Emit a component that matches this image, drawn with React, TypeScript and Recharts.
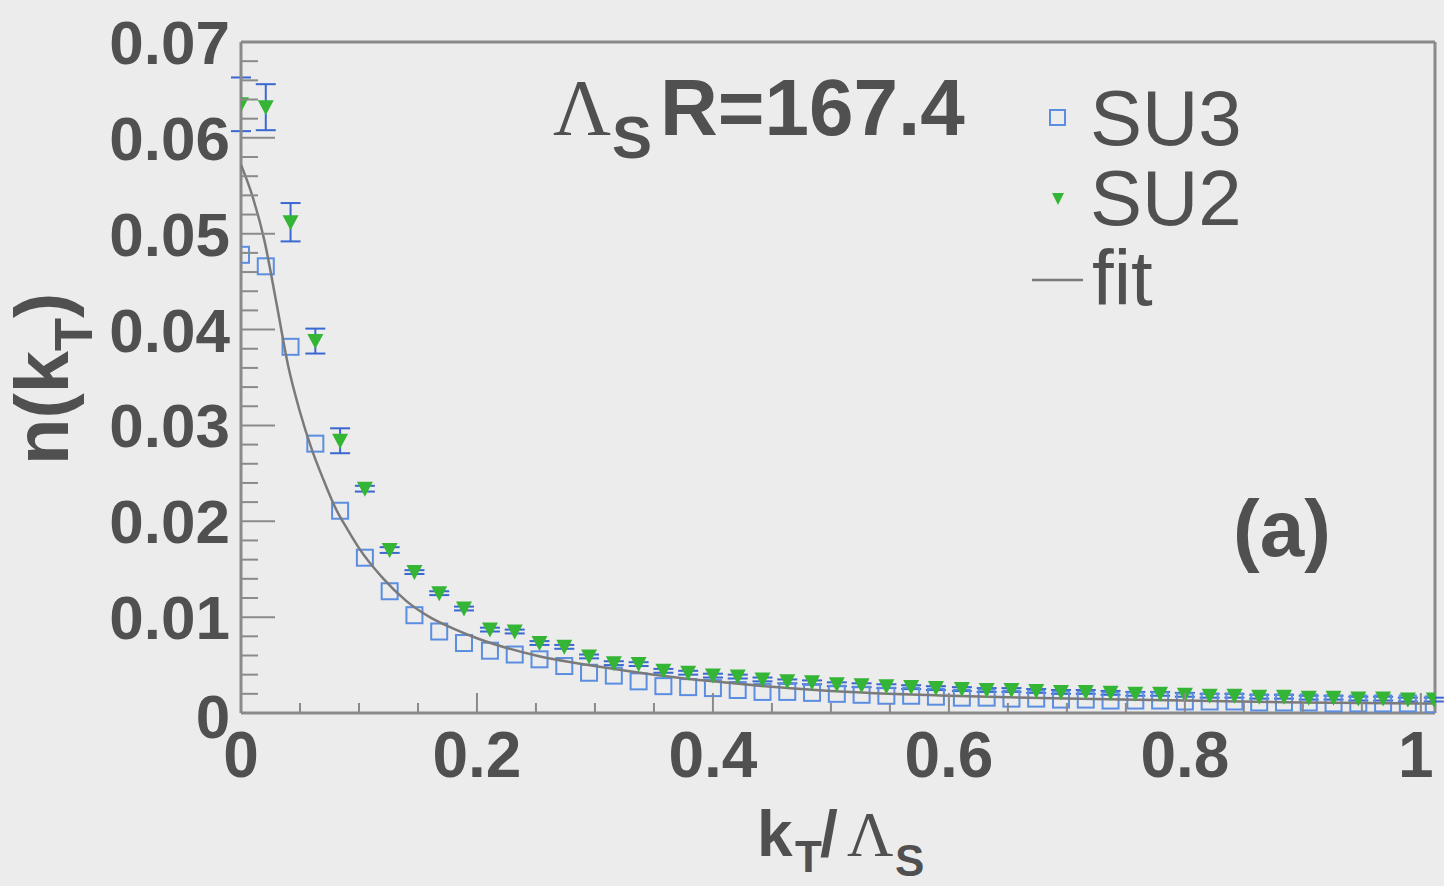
import { ScatterChart, Scatter, XAxis, YAxis, ErrorBar, ReferenceLine } from "recharts";

const BG = "#ececec";
const AXIS = "#8a8a8a";
const TXT = "#505050";
const BLUE = "#5b8ee0";
const GREEN = "#35b535";
const ERR = "#3a68d0";
const FIT = "#7a7a7a";
const FONT = "'Liberation Sans', Arial, sans-serif";
const SERIF = "'Liberation Serif', 'DejaVu Serif', serif";

// k_T / Lambda_S grid
const KT = [
  0, 0.021, 0.042, 0.063, 0.084, 0.105, 0.126, 0.147, 0.168, 0.189,
  0.211, 0.232, 0.253, 0.274, 0.295, 0.316, 0.337, 0.358, 0.379, 0.4,
  0.421, 0.442, 0.463, 0.484, 0.505, 0.526, 0.547, 0.568, 0.589, 0.611,
  0.632, 0.653, 0.674, 0.695, 0.716, 0.737, 0.758, 0.779, 0.8, 0.821,
  0.842, 0.863, 0.884, 0.905, 0.926, 0.947, 0.968, 0.989, 1.011,
];

const SU3 = [
  0.0478, 0.0466, 0.0382, 0.0281, 0.0211, 0.0162, 0.0127, 0.0102, 0.0085, 0.0073,
  0.0065, 0.0061, 0.0056, 0.0049, 0.0042, 0.0039, 0.0033, 0.0028, 0.0027, 0.0026,
  0.0024, 0.0022, 0.0022, 0.0021, 0.002, 0.0019, 0.0018, 0.0018, 0.0017, 0.0016,
  0.0016, 0.0015, 0.0015, 0.0014, 0.0014, 0.0013, 0.0013, 0.0013, 0.0012, 0.0012,
  0.0012, 0.0011, 0.0011, 0.0011, 0.001, 0.001, 0.001, 0.001, 0.0009,
];

const SU2 = [
  0.0635, 0.0632, 0.0512, 0.0388, 0.0284, 0.0234, 0.017, 0.0147, 0.0125, 0.0109,
  0.0087, 0.0085, 0.0073, 0.0069, 0.0059, 0.0052, 0.0051, 0.0044, 0.0042, 0.0039,
  0.0038, 0.0035, 0.0033, 0.0032, 0.003, 0.0029, 0.0028, 0.0027, 0.0026, 0.0025,
  0.0024, 0.0024, 0.0023, 0.0022, 0.0022, 0.0021, 0.002, 0.002, 0.0019, 0.0018,
  0.0018, 0.0017, 0.0017, 0.0016, 0.0016, 0.0015, 0.0015, 0.0014, 0.0014,
];

const SU2_ERR = [
  0.0028, 0.0024, 0.002, 0.0013, 0.0013, 0.0003, 0.0003, 0.0002, 0.0002, 0.0002,
  0.0002, 0.0002, 0.0002, 0.0002, 0.0002, 0.0002, 0.0002, 0.0002, 0.0002, 0.0002,
  0.0002, 0.0002, 0.0002, 0.0002, 0.0002, 0.0002, 0.0002, 0.0002, 0.0002, 0.0002,
  0.0002, 0.0002, 0.0002, 0.0002, 0.0002, 0.0002, 0.0002, 0.0002, 0.0002, 0.0002,
  0.0002, 0.0002, 0.0002, 0.0002, 0.0002, 0.0002, 0.0002, 0.0002, 0.0002,
];

// fit curve
const FIT_X = [0, 0.01, 0.02, 0.03, 0.04, 0.05, 0.06, 0.07, 0.08, 0.09, 0.1, 0.12, 0.14, 0.16, 0.18, 0.2, 0.25, 0.3, 0.35, 0.4, 0.5, 0.6, 0.7, 0.8, 0.9, 1.0, 1.012];
const FIT_Y = [0.0572, 0.0538, 0.0492, 0.0428, 0.0362, 0.0314, 0.0275, 0.0243, 0.0214, 0.0192, 0.0172, 0.0141, 0.0117, 0.01, 0.0088, 0.0078, 0.006, 0.0049, 0.004, 0.0033, 0.0023, 0.0018, 0.0015, 0.0013, 0.0011, 0.001, 0.001];

const X_LABELS = ["0", "0.2", "0.4", "0.6", "0.8", "1"];
const Y_LABELS = ["0", "0.01", "0.02", "0.03", "0.04", "0.05", "0.06", "0.07"];

const X_TICKS = Array.from({ length: 21 }, (_, i) => i * 0.05);
const Y_TICKS = Array.from({ length: 36 }, (_, i) => i * 0.002);

const su3Data = KT.map((x, i) => ({ x, y: SU3[i] }));
const su2Data = KT.map((x, i) => ({ x, y: SU2[i], err: SU2_ERR[i] }));
const fitData = FIT_X.map((x, i) => ({ x, y: FIT_Y[i] }));

/* eslint-disable @typescript-eslint/no-explicit-any */
function Square(props: any) {
  const { cx, cy } = props;
  return <rect x={cx - 8} y={cy - 8} width={16} height={16} fill="none" stroke={BLUE} strokeWidth={2} />;
}
function TriDown(props: any) {
  const { cx, cy } = props;
  return <polygon points={`${cx - 8},${cy - 7} ${cx + 8},${cy - 7} ${cx},${cy + 8}`} fill={GREEN} />;
}
function NoDot() {
  return <g />;
}

function XTick(props: any) {
  const { x, y, payload } = props;
  const v = payload.value;
  const k = Math.round(v * 5);
  const major = Math.abs(v * 5 - k) < 1e-6;
  return (
    <g>
      <line x1={x} x2={x} y1={y} y2={y - (major ? 20 : 10)} stroke={AXIS} strokeWidth={2} />
      {major && (
        <text x={k === 5 ? x - 5 : x} y={y + 64} textAnchor="middle" fill={TXT} fontSize={64} fontWeight={700} fontFamily={FONT}>
          {X_LABELS[k]}
        </text>
      )}
    </g>
  );
}

function YTick(props: any) {
  const { x, y, payload } = props;
  const v = payload.value;
  const k = Math.round(v * 100);
  const major = Math.abs(v * 100 - k) < 1e-6;
  return (
    <g>
      <line x1={x} x2={x + (major ? 34 : 17)} y1={y} y2={y} stroke={AXIS} strokeWidth={2} />
      {major && k > 0 && (
        <text x={x - 11} y={y + 22} textAnchor="end" fill={TXT} fontSize={62} fontWeight={700} fontFamily={FONT}>
          {Y_LABELS[k]}
        </text>
      )}
      {major && k === 0 && (
        <text x={x - 28} y={y + 25} textAnchor="middle" fill={TXT} fontSize={62} fontWeight={700} fontFamily={FONT}>
          {Y_LABELS[0]}
        </text>
      )}
    </g>
  );
}
/* eslint-enable @typescript-eslint/no-explicit-any */

export default function App() {
  return (
    <div style={{ position: "absolute", left: 0, top: 0, width: 1444, height: 886, background: BG }}>
      <ScatterChart width={1444} height={886} margin={{ top: 42, right: 9, bottom: 0, left: 0 }}>
        <XAxis
          type="number" dataKey="x" domain={[0, 1.012]} allowDataOverflow ticks={X_TICKS} interval={0}
          height={173} tickSize={0} tickMargin={0} tickLine={false}
          axisLine={{ stroke: AXIS, strokeWidth: 3 }} tick={<XTick />}
        />
        <YAxis
          type="number" dataKey="y" domain={[0, 0.07]} allowDataOverflow ticks={Y_TICKS} interval={0}
          width={241} tickSize={0} tickMargin={0} tickLine={false}
          axisLine={{ stroke: AXIS, strokeWidth: 3 }} tick={<YTick />}
        />
        <ReferenceLine y={0.07} stroke={AXIS} strokeWidth={3} />
        <ReferenceLine x={1.012} stroke={AXIS} strokeWidth={3} />
        <Scatter data={su3Data} shape={<Square />} isAnimationActive={false} />
        <Scatter
          data={fitData} shape={<NoDot />} line={{ stroke: FIT, strokeWidth: 2.5 }}
          lineJointType="monotoneX" isAnimationActive={false}
        />
        <Scatter data={su2Data} shape={<TriDown />} isAnimationActive={false}>
          <ErrorBar dataKey="err" direction="y" width={10} stroke={ERR} strokeWidth={2} />
        </Scatter>
      </ScatterChart>

      <svg width={1444} height={886} style={{ position: "absolute", left: 0, top: 0, pointerEvents: "none" }}>
        {/* annotation */}
        <text y={135} fill={TXT} fontSize={80} fontFamily={FONT}>
          <tspan x={553} fontFamily={SERIF}>Λ</tspan>
          <tspan x={612} dy={23} fontSize={60} fontWeight={700}>S</tspan>
          <tspan x={660} dy={-23} fontWeight={700}>R=167.4</tspan>
        </text>

        {/* legend */}
        <rect x={1050} y={110} width={15} height={15} fill="none" stroke={BLUE} strokeWidth={2} />
        <text x={1090} y={145} fill={TXT} fontSize={78} fontFamily={FONT}>SU3</text>
        <polygon points="1052,193 1064,193 1058,205" fill={GREEN} />
        <text x={1090} y={225} fill={TXT} fontSize={78} fontFamily={FONT}>SU2</text>
        <line x1={1032} x2={1083} y1={280} y2={280} stroke={FIT} strokeWidth={2.5} />
        <text x={1092} y={305} fill={TXT} fontSize={78} fontFamily={FONT}>fit</text>

        <text x={1233} y={556} fill={TXT} fontSize={80} fontWeight={700} fontFamily={FONT}>(a)</text>

        {/* x title */}
        <text y={856} fill={TXT} fontSize={64} fontWeight={700} fontFamily={FONT}>
          <tspan x={757}>k</tspan>
          <tspan x={795} dy={16} fontSize={44}>T</tspan>
          <tspan x={820} dy={-16}>/</tspan>
          <tspan x={847} fontFamily={SERIF} fontWeight={400}>Λ</tspan>
          <tspan x={895} dy={20} fontSize={44}>S</tspan>
        </text>

        {/* y title */}
        <text transform="translate(68,465) rotate(-90)" fill={TXT} fontSize={76} fontWeight={700} fontFamily={FONT}>
          n(k<tspan fontSize={54} dy={24}>T</tspan><tspan dy={-24}>)</tspan>
        </text>
      </svg>
    </div>
  );
}
